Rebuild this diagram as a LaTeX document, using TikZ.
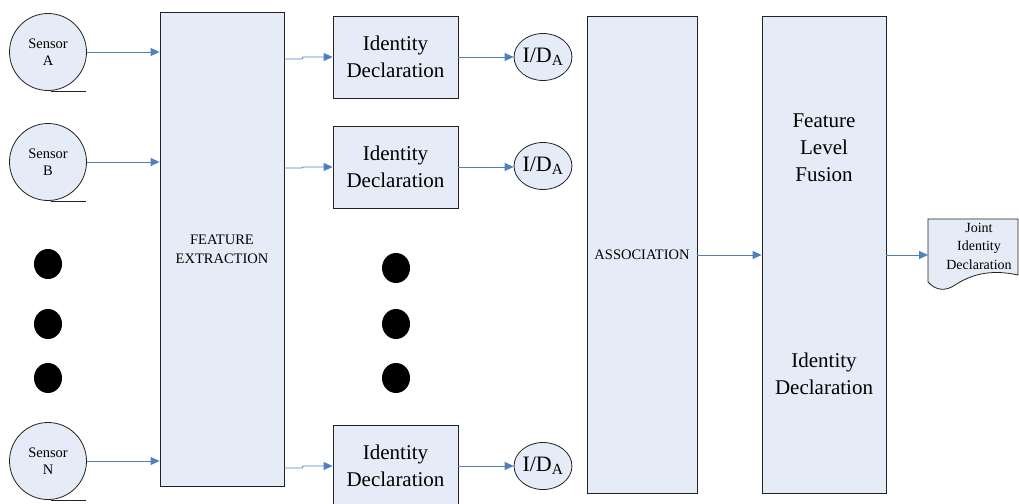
\documentclass[tikz,border=0pt]{standalone}
\usepackage{fontspec}
\setmainfont{Liberation Serif}
\newfontfamily\tms{Liberation Serif}
\usetikzlibrary{arrows.meta,shapes.geometric}
\definecolor{boxfill}{HTML}{E6ECF7}
\definecolor{flow}{HTML}{4F81BD}
\definecolor{edge}{HTML}{222222}
\begin{document}
\begin{tikzpicture}[x=1pt,y=-1pt,
  every node/.style={font=\tms},
  block/.style={draw=edge,line width=0.8pt,fill=boxfill,inner sep=0pt,align=center},
  sensor/.style={draw=edge,line width=0.8pt,fill=boxfill,circle,minimum size=77pt,inner sep=0pt,align=center,font=\tms\fontsize{14.5}{17}\selectfont},
  idout/.style={draw=edge,line width=0.8pt,fill=boxfill,ellipse,minimum width=50pt,minimum height=47pt,inner sep=0pt,font=\tms\fontsize{22}{24}\selectfont},
  dot/.style={fill=black,ellipse,minimum width=28pt,minimum height=30pt,inner sep=0pt},
  flowarrow/.style={draw=flow,line width=0.8pt,-{Triangle[length=9pt,width=8pt]}},
  big/.style={font=\tms\fontsize{21}{27}\selectfont},
  small/.style={font=\tms\fontsize{14.5}{19}\selectfont}]
\useasboundingbox (0,0) rectangle (1019,503);

% sensors (tape-style symbols)
\node[sensor] (sa) at (48,52) {Sensor\\A};
\node[sensor] (sb) at (48,162) {Sensor\\B};
\node[sensor] (sn) at (48,461) {Sensor\\N};
\foreach \s in {sa,sb,sn}
  \draw[edge,line width=0.8pt] ([xshift=3pt]\s.south) -- ++(35,0);

% ellipsis dots
\node[dot] (d1) at (48,264) {};
\node[dot] (d2) at (48,324) {};
\node[dot] (d3) at (48,378) {};
\node[dot] (e1) at (396,268) {};
\node[dot] (e2) at (396,324) {};
\node[dot] (e3) at (396,378) {};

% feature extraction
\node[block,small,minimum width=124pt,minimum height=474pt] (fe) at (222,249) {FEATURE\\EXTRACTION};

% identity declarations
\node[block,big,minimum width=125pt,minimum height=82pt] (ida) at (395.5,57) {Identity\\Declaration};
\node[block,big,minimum width=125pt,minimum height=82pt] (idb) at (395.5,167) {Identity\\Declaration};
\node[block,big,minimum width=125pt,minimum height=82pt] (idn) at (395.5,466) {Identity\\Declaration};

\node[idout] (oa) at (543,57) {I/D\textsubscript{A}};
\node[idout] (ob) at (543,166) {I/D\textsubscript{A}};
\node[idout] (on) at (543,466) {I/D\textsubscript{A}};

% association and fusion
\node[block,small,minimum width=110pt,minimum height=477pt] (as) at (642,254.5) {ASSOCIATION};
\node[block,minimum width=124pt,minimum height=477pt] (fl) at (824,254.5) {};
\node[big,align=center] (flt) at (824,148) {Feature\\Level\\Fusion};
\node[big,align=center] (fld) at (824,374) {Identity\\Declaration};

% joint output document
\coordinate (jd) at (928,255);
\draw[edge,line width=0.8pt,fill=boxfill] (928,219) -- (1018,219) -- (1018,275)
  .. controls (995,270) and (975,272) .. (955,285)
  .. controls (945,292) and (935,290) .. (928,282) -- cycle;
\node[align=center,font=\tms\fontsize{14}{18.5}\selectfont] (jt) at (979,246) {Joint\\Identity\\Declaration};

% connectors
\draw[flowarrow] (sa.east) -- (sa.east -| fe.west);
\draw[flowarrow] (sb.east) -- (sb.east -| fe.west);
\draw[flowarrow] (sn.east) -- (sn.east -| fe.west);
\draw[flowarrow] (fe.east |- 0,59) -- (302,59) -- (303,57) -- (ida.west);
\draw[flowarrow] (fe.east |- 0,168) -- (302,168) -- (303,167) -- (idb.west);
\draw[flowarrow] (fe.east |- 0,468) -- (302,468) -- (303,466) -- (idn.west);
\draw[flowarrow] (ida.east) -- (oa.west);
\draw[flowarrow] (idb.east) -- (idb.east -| ob.west);
\draw[flowarrow] (idn.east) -- (on.west);
\draw[flowarrow] (as.east |- 0,255) -- (fl.west |- 0,255);
\draw[flowarrow] (fl.east |- jd) -- (jd);
\end{tikzpicture}
\end{document}
